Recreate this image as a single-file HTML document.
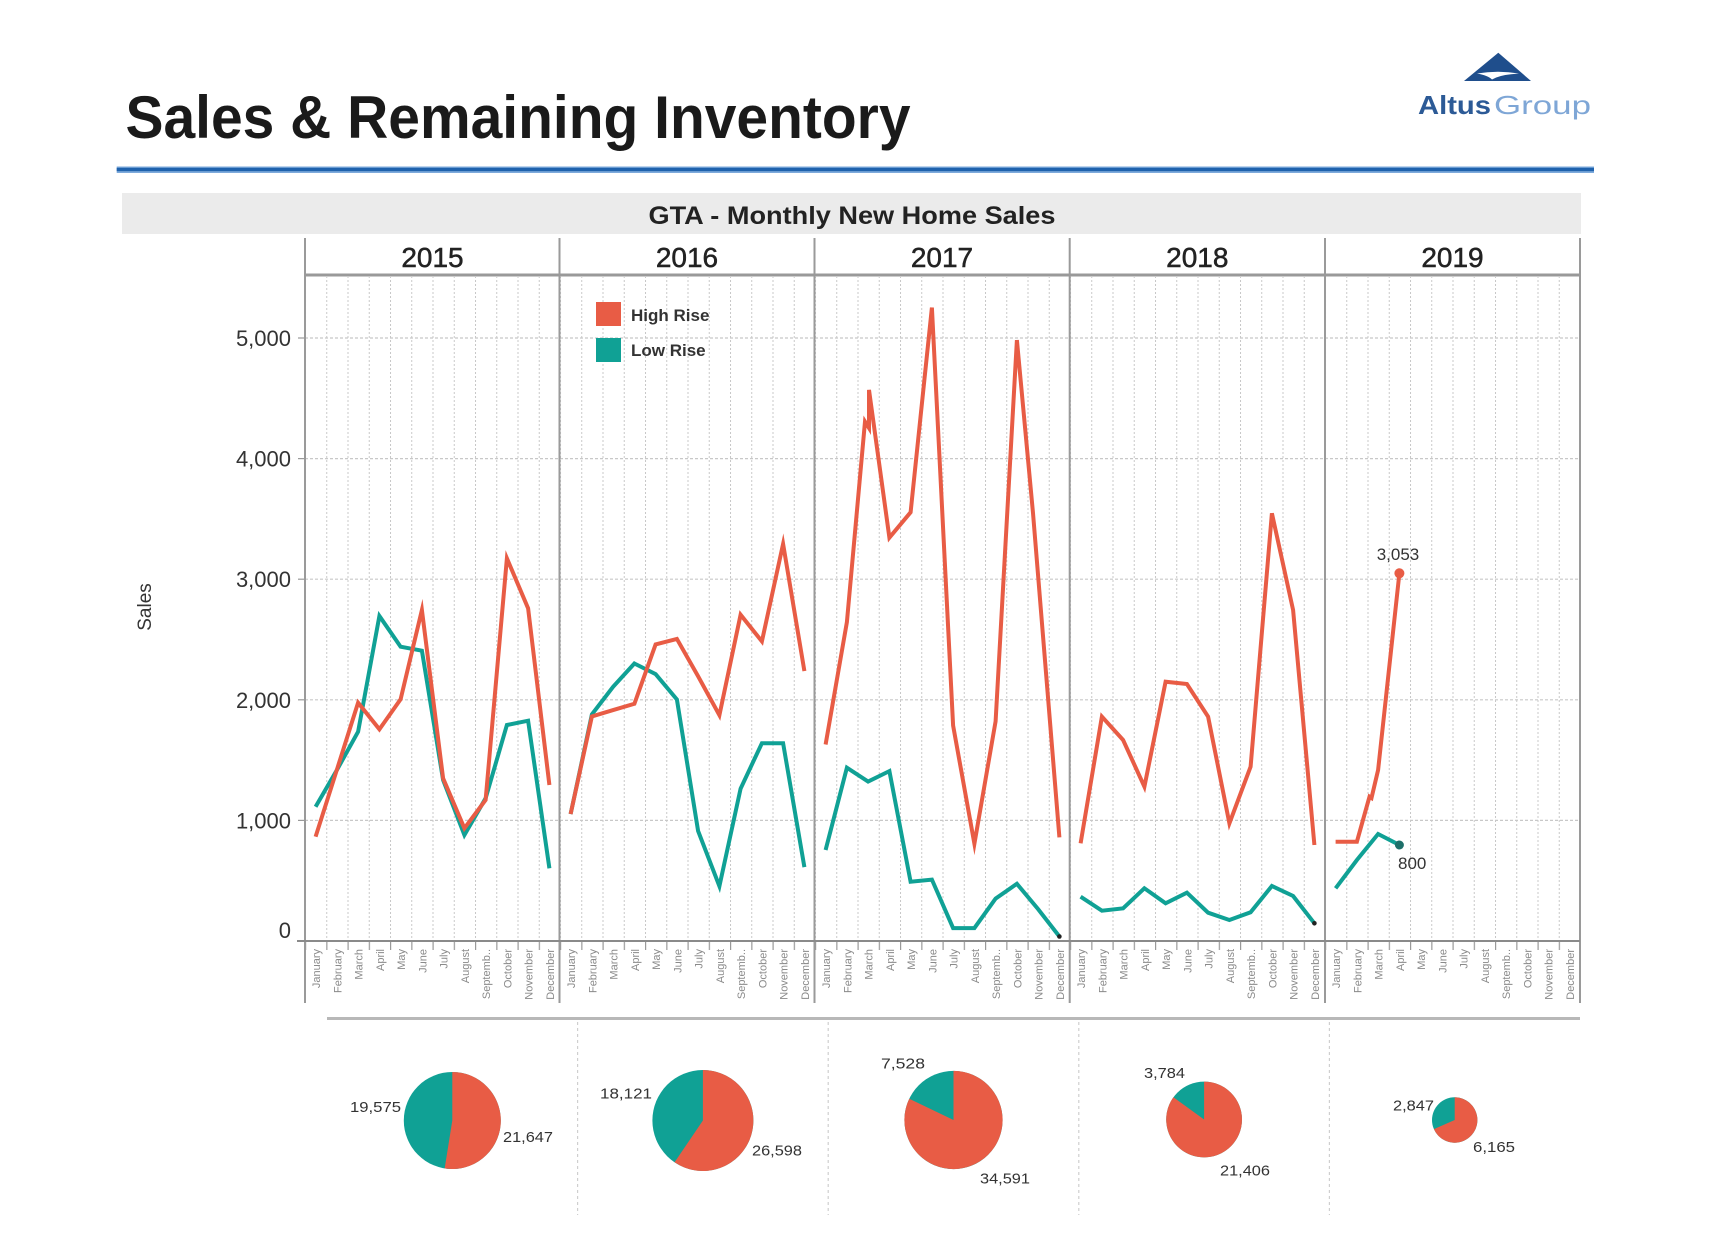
<!DOCTYPE html>
<html>
<head>
<meta charset="utf-8">
<style>
  html, body { margin:0; padding:0; background:#ffffff; }
  svg { display:block; }
  text { font-family: "Liberation Sans", "DejaVu Sans", sans-serif; }
</style>
</head>
<body>
<svg width="1710" height="1248" viewBox="0 0 1710 1248" xmlns="http://www.w3.org/2000/svg">
  <defs>
    <pattern id="vgrid" patternUnits="userSpaceOnUse" x="305" y="0" width="21.25" height="4">
      <rect x="0" y="0" width="1" height="2" fill="#c8c8c8"/>
    </pattern>
    <pattern id="vtick" patternUnits="userSpaceOnUse" x="305" y="0" width="21.25" height="20">
      <rect x="0" y="0" width="1.2" height="20" fill="#9a9a9a"/>
    </pattern>
  </defs>

  <rect x="0" y="0" width="1710" height="1248" fill="#ffffff"/>

  <!-- Title -->
  <text x="125.5" y="138" font-size="60" font-weight="bold" fill="#1a1a1a" textLength="785" lengthAdjust="spacingAndGlyphs">Sales &amp; Remaining Inventory</text>

  <!-- Logo -->
  <polygon points="1464,81 1498.3,52.7 1531,81" fill="#1f4e8c"/>
  <path d="M1477,73.5 Q1498,70 1519,73.5 L1511,74.3 Q1499,75.5 1492,79.5 Q1488,75.5 1477,73.5 Z" fill="#ffffff"/>
  <text x="1418" y="114" font-size="26" font-weight="bold" fill="#2c5a96" textLength="73" lengthAdjust="spacingAndGlyphs">Altus</text>
  <text x="1494" y="114" font-size="26" fill="#7ea6d6" textLength="97" lengthAdjust="spacingAndGlyphs">Group</text>

  <!-- Blue rule -->
  <rect x="116.7" y="166.5" width="1477.3" height="6.5" fill="#7eaadb"/>
  <rect x="116.7" y="167.8" width="1477.3" height="3.4" fill="#1f62ad"/>

  <!-- GTA band -->
  <rect x="122" y="193" width="1459" height="41" fill="#ebebeb"/>
  <text x="852" y="224" font-size="25" font-weight="bold" fill="#222" text-anchor="middle" textLength="407" lengthAdjust="spacingAndGlyphs">GTA - Monthly New Home Sales</text>

  <!-- Year headers -->
  <g font-size="28" fill="#222" stroke="#222" stroke-width="0.5" text-anchor="middle">
    <text x="432.5" y="267">2015</text>
    <text x="687" y="267">2016</text>
    <text x="942" y="267">2017</text>
    <text x="1197.3" y="267">2018</text>
    <text x="1452.5" y="267">2019</text>
  </g>

  <!-- Vertical month gridlines -->
  <rect x="305" y="277" width="1275" height="664" fill="url(#vgrid)"/>
  <!-- Month ticks below axis -->
  <rect x="305" y="941" width="1275" height="9" fill="url(#vtick)"/>

  <!-- Horizontal gridlines -->
  <g stroke="#c8c8c8" stroke-width="1.2" stroke-dasharray="3,2">
    <line x1="305" y1="338" x2="1580" y2="338"/>
    <line x1="305" y1="458.6" x2="1580" y2="458.6"/>
    <line x1="305" y1="579.2" x2="1580" y2="579.2"/>
    <line x1="305" y1="699.8" x2="1580" y2="699.8"/>
    <line x1="305" y1="820.4" x2="1580" y2="820.4"/>
  </g>

  <!-- Y ticks -->
  <g stroke="#999" stroke-width="1.2">
    <line x1="298" y1="338" x2="305" y2="338"/>
    <line x1="298" y1="458.6" x2="305" y2="458.6"/>
    <line x1="298" y1="579.2" x2="305" y2="579.2"/>
    <line x1="298" y1="699.8" x2="305" y2="699.8"/>
    <line x1="298" y1="820.4" x2="305" y2="820.4"/>
  </g>

  <!-- Panel dividers -->
  <g stroke="#9a9a9a" stroke-width="2">
    <line x1="305" y1="238" x2="305" y2="1003"/>
    <line x1="559.5" y1="238" x2="559.5" y2="1003"/>
    <line x1="814.5" y1="238" x2="814.5" y2="1003"/>
    <line x1="1069.7" y1="238" x2="1069.7" y2="1003"/>
    <line x1="1325" y1="238" x2="1325" y2="1003"/>
    <line x1="1580" y1="238" x2="1580" y2="1003"/>
  </g>
  <!-- Header bottom line -->
  <line x1="305" y1="275" x2="1580" y2="275" stroke="#999" stroke-width="3"/>
  <!-- X axis -->
  <line x1="297" y1="941" x2="1580" y2="941" stroke="#8a8a8a" stroke-width="2"/>

  <!-- Y axis labels -->
  <g font-size="22" fill="#333" text-anchor="end">
    <text x="291" y="346">5,000</text>
    <text x="291" y="466.6">4,000</text>
    <text x="291" y="587.2">3,000</text>
    <text x="291" y="707.8">2,000</text>
    <text x="291" y="828.4">1,000</text>
    <text x="291" y="938">0</text>
  </g>
  <text transform="translate(151,607) rotate(-90)" font-size="19" fill="#333" text-anchor="middle">Sales</text>

  <!-- Month labels -->
  <g font-size="11" fill="#8a8a8a" text-anchor="end">
    <text transform="translate(320.1,949) rotate(-90)">January</text>
    <text transform="translate(341.4,949) rotate(-90)">February</text>
    <text transform="translate(362.6,949) rotate(-90)">March</text>
    <text transform="translate(383.9,949) rotate(-90)">April</text>
    <text transform="translate(405.1,949) rotate(-90)">May</text>
    <text transform="translate(426.4,949) rotate(-90)">June</text>
    <text transform="translate(447.6,949) rotate(-90)">July</text>
    <text transform="translate(468.9,949) rotate(-90)">August</text>
    <text transform="translate(490.1,949) rotate(-90)">Septemb..</text>
    <text transform="translate(511.4,949) rotate(-90)">October</text>
    <text transform="translate(532.6,949) rotate(-90)">November</text>
    <text transform="translate(553.9,949) rotate(-90)">December</text>

    <text transform="translate(575.1,949) rotate(-90)">January</text>
    <text transform="translate(596.4,949) rotate(-90)">February</text>
    <text transform="translate(617.6,949) rotate(-90)">March</text>
    <text transform="translate(638.9,949) rotate(-90)">April</text>
    <text transform="translate(660.1,949) rotate(-90)">May</text>
    <text transform="translate(681.4,949) rotate(-90)">June</text>
    <text transform="translate(702.6,949) rotate(-90)">July</text>
    <text transform="translate(723.9,949) rotate(-90)">August</text>
    <text transform="translate(745.1,949) rotate(-90)">Septemb..</text>
    <text transform="translate(766.4,949) rotate(-90)">October</text>
    <text transform="translate(787.6,949) rotate(-90)">November</text>
    <text transform="translate(808.9,949) rotate(-90)">December</text>

    <text transform="translate(830.1,949) rotate(-90)">January</text>
    <text transform="translate(851.4,949) rotate(-90)">February</text>
    <text transform="translate(872.6,949) rotate(-90)">March</text>
    <text transform="translate(893.9,949) rotate(-90)">April</text>
    <text transform="translate(915.1,949) rotate(-90)">May</text>
    <text transform="translate(936.4,949) rotate(-90)">June</text>
    <text transform="translate(957.6,949) rotate(-90)">July</text>
    <text transform="translate(978.9,949) rotate(-90)">August</text>
    <text transform="translate(1000.1,949) rotate(-90)">Septemb..</text>
    <text transform="translate(1021.4,949) rotate(-90)">October</text>
    <text transform="translate(1042.6,949) rotate(-90)">November</text>
    <text transform="translate(1063.9,949) rotate(-90)">December</text>

    <text transform="translate(1085.1,949) rotate(-90)">January</text>
    <text transform="translate(1106.4,949) rotate(-90)">February</text>
    <text transform="translate(1127.6,949) rotate(-90)">March</text>
    <text transform="translate(1148.9,949) rotate(-90)">April</text>
    <text transform="translate(1170.1,949) rotate(-90)">May</text>
    <text transform="translate(1191.4,949) rotate(-90)">June</text>
    <text transform="translate(1212.6,949) rotate(-90)">July</text>
    <text transform="translate(1233.9,949) rotate(-90)">August</text>
    <text transform="translate(1255.1,949) rotate(-90)">Septemb..</text>
    <text transform="translate(1276.4,949) rotate(-90)">October</text>
    <text transform="translate(1297.6,949) rotate(-90)">November</text>
    <text transform="translate(1318.9,949) rotate(-90)">December</text>

    <text transform="translate(1340.1,949) rotate(-90)">January</text>
    <text transform="translate(1361.4,949) rotate(-90)">February</text>
    <text transform="translate(1382.6,949) rotate(-90)">March</text>
    <text transform="translate(1403.9,949) rotate(-90)">April</text>
    <text transform="translate(1425.1,949) rotate(-90)">May</text>
    <text transform="translate(1446.4,949) rotate(-90)">June</text>
    <text transform="translate(1467.6,949) rotate(-90)">July</text>
    <text transform="translate(1488.9,949) rotate(-90)">August</text>
    <text transform="translate(1510.1,949) rotate(-90)">Septemb..</text>
    <text transform="translate(1531.4,949) rotate(-90)">October</text>
    <text transform="translate(1552.6,949) rotate(-90)">November</text>
    <text transform="translate(1573.9,949) rotate(-90)">December</text>
  </g>

  <!-- Legend -->
  <rect x="596" y="302" width="25" height="24" fill="#e85c45"/>
  <rect x="596" y="338" width="25" height="24" fill="#10a195"/>
  <g font-size="17" font-weight="bold" fill="#333">
    <text x="631" y="321">High Rise</text>
    <text x="631" y="356">Low Rise</text>
  </g>

  <!-- Low Rise series -->
  <g fill="none" stroke="#10a195" stroke-width="4" stroke-linejoin="miter" stroke-miterlimit="6">
    <polyline points="315.6,806.7 336.9,770 358.1,731.7 379.4,616 400.6,646.7 421.9,650.7 443.1,780 464.4,835 485.6,798.3 506.9,725 528.1,720.7 549.4,868.3"/>
    <polyline points="570.6,814.1 591.9,714.4 613.1,686.8 634.4,663.5 655.6,674.1 676.9,699.5 698.1,831 719.4,886.2 740.6,788.6 761.9,743.2 783.1,743.2 804.4,867.1"/>
    <polyline points="825.6,850 846.9,767.7 868.1,781.6 889.4,771.1 910.6,881.7 931.9,879.6 953.1,928.1 974.4,928.1 995.6,898.6 1016.9,883.8 1038.1,909.1 1059.4,936.5"/>
    <polyline points="1080.6,896.7 1101.9,910.7 1123.1,908.3 1144.4,888.3 1165.6,903.3 1186.9,892.7 1208.1,912.7 1229.4,920 1250.6,912.3 1271.9,886 1293.1,896 1314.4,923.3"/>
    <polyline points="1335.6,888.3 1356.9,860 1378.1,834 1399.4,845"/>
  </g>

  <!-- High Rise series -->
  <g fill="none" stroke="#e85c45" stroke-width="4" stroke-linejoin="miter" stroke-miterlimit="6">
    <polyline points="315.6,836.7 336.9,769.7 358.1,702.7 379.4,729.3 400.6,699.3 421.9,610 443.1,778.3 464.4,828.3 485.6,800 506.9,558.3 528.1,608.3 549.4,785"/>
    <polyline points="570.6,814.1 591.9,716.5 613.1,710.1 634.4,703.8 655.6,644.4 676.9,638.9 698.1,676.2 719.4,715.2 740.6,614.7 761.9,641.4 783.1,543.9 804.4,671.1"/>
    <polyline points="825.6,744.5 846.9,622.1 865,421.6 869,428 869,389.9 889.4,537.7 910.6,512.3 931.9,307.6 953.1,725.5 974.4,843.7 995.6,721.3 1016.9,340.1 1033,513 1059.4,837.4"/>
    <polyline points="1080.6,843.3 1101.9,716.7 1123.1,740 1144.4,786.7 1165.6,681.7 1186.9,684 1208.1,716.7 1229.4,823.3 1250.6,766.7 1271.9,513.3 1293.1,610 1314.4,845"/>
    <polyline points="1335.6,841.7 1356.9,841.7 1369.5,796.7 1371.5,798 1378.1,770 1399.4,573.3"/>
  </g>

  <!-- End markers -->
  <circle cx="1399.4" cy="573.3" r="5" fill="#e85c45"/>
  <circle cx="1399.4" cy="845" r="4.5" fill="#1d6f69"/>
  <circle cx="1059.4" cy="936.5" r="2.3" fill="#222"/>
  <circle cx="1314.4" cy="923.3" r="2.3" fill="#222"/>

  <!-- Data labels -->
  <g font-size="17" fill="#333">
    <text x="1398" y="560" text-anchor="middle">3,053</text>
    <text x="1398" y="869">800</text>
  </g>

  <!-- Pie row separators -->
  <line x1="327" y1="1018.5" x2="1580" y2="1018.5" stroke="#b8b8b8" stroke-width="3"/>
  <g stroke="#cfcfcf" stroke-width="1.2" stroke-dasharray="3,3">
    <line x1="577.6" y1="1022" x2="577.6" y2="1215"/>
    <line x1="828.2" y1="1022" x2="828.2" y2="1215"/>
    <line x1="1078.8" y1="1022" x2="1078.8" y2="1215"/>
    <line x1="1329.4" y1="1022" x2="1329.4" y2="1215"/>
  </g>

  <!-- Pies -->
  <circle cx="452.3" cy="1120.5" r="48.5" fill="#10a195"/>
  <path d="M452.3,1120.5 L452.3,1072 A48.5,48.5 0 1 1 444.67,1168.39 Z" fill="#e85c45"/>

  <circle cx="702.9" cy="1120.5" r="50.5" fill="#10a195"/>
  <path d="M702.9,1120.5 L702.9,1070 A50.5,50.5 0 1 1 674.57,1162.31 Z" fill="#e85c45"/>

  <circle cx="953.5" cy="1120" r="49.1" fill="#10a195"/>
  <path d="M953.5,1120 L953.5,1070.9 A49.1,49.1 0 1 1 909.24,1098.74 Z" fill="#e85c45"/>

  <circle cx="1204.1" cy="1119.5" r="37.9" fill="#10a195"/>
  <path d="M1204.1,1119.5 L1204.1,1081.6 A37.9,37.9 0 1 1 1173.4,1097.27 Z" fill="#e85c45"/>

  <circle cx="1454.7" cy="1120" r="22.7" fill="#10a195"/>
  <path d="M1454.7,1120 L1454.7,1097.3 A22.7,22.7 0 1 1 1433.92,1129.13 Z" fill="#e85c45"/>

  <!-- Pie labels -->
  <g font-size="15" fill="#333">
    <text x="350" y="1112" textLength="51" lengthAdjust="spacingAndGlyphs">19,575</text>
    <text x="503" y="1142" textLength="50" lengthAdjust="spacingAndGlyphs">21,647</text>
    <text x="600" y="1098.5" textLength="52" lengthAdjust="spacingAndGlyphs">18,121</text>
    <text x="752" y="1155.5" textLength="50" lengthAdjust="spacingAndGlyphs">26,598</text>
    <text x="881" y="1068.5" textLength="44" lengthAdjust="spacingAndGlyphs">7,528</text>
    <text x="980" y="1183.5" textLength="50" lengthAdjust="spacingAndGlyphs">34,591</text>
    <text x="1144" y="1078" textLength="41" lengthAdjust="spacingAndGlyphs">3,784</text>
    <text x="1220" y="1175.5" textLength="50" lengthAdjust="spacingAndGlyphs">21,406</text>
    <text x="1393" y="1110.5" textLength="41" lengthAdjust="spacingAndGlyphs">2,847</text>
    <text x="1473" y="1152" textLength="42" lengthAdjust="spacingAndGlyphs">6,165</text>
  </g>
</svg>
</body>
</html>
